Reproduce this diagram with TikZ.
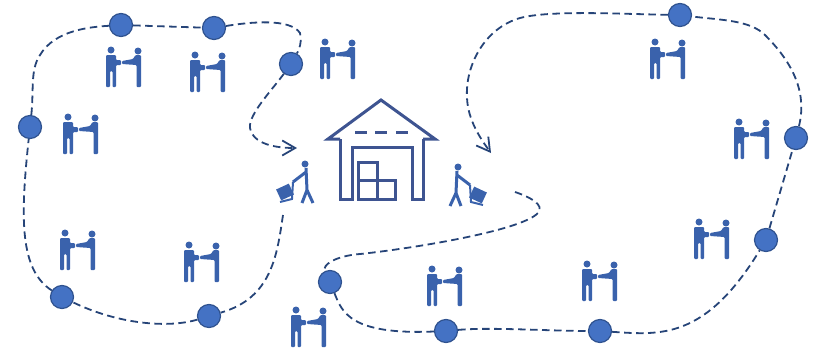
\documentclass[tikz,border=0pt]{standalone}
\usetikzlibrary{arrows.meta,positioning}
\definecolor{routeblue}{RGB}{38,68,120}
\definecolor{stopblue}{RGB}{68,114,196}
\definecolor{stopedge}{RGB}{47,82,143}
\definecolor{iconblue}{RGB}{58,98,172}
\definecolor{housegrey}{RGB}{62,84,145}
\tikzset{
  stop/.style={circle,draw=stopedge,fill=stopblue,line width=1.2pt,minimum size=23pt,inner sep=0pt},
  route/.style={draw=routeblue,line width=1.8pt,dash pattern=on 7.5pt off 4.5pt},
  house/.style={draw=housegrey,line width=3pt,line join=miter},
  pair/.pic={
    \fill[iconblue] (-13,-17) circle (3.5);
    \fill[iconblue,rounded corners=1pt] (-18,-12) -- (-8,-12) -- (-8,-7) -- (-3,-7) -- (-3,-2) -- (-8,-2) -- (-8,20) -- (-11.5,20) -- (-11.5,4) -- (-14,4) -- (-14,20) -- (-18,20) -- cycle;
    \fill[iconblue] (14,-16) circle (3.5);
    \fill[iconblue,rounded corners=1pt] (11.5,-12) -- (17,-12) -- (17,20) -- (12.5,20) -- (12.5,-2) -- (-2,-3) -- (-2,-6) -- (9,-8) -- cycle;
  },
  worker/.pic={
    \fill[iconblue] (3,-20) circle (3.5);
    \draw[iconblue,line width=3pt] (4,-16) -- (5,6) (5,6) -- (0,19) (5,6) -- (11,19) (4,-12) -- (-9,-2);
    \fill[iconblue,rotate around={25:(-17,8)}] (-24,2) rectangle (-10,14);
    \draw[iconblue,line width=2pt] (-9,-2) -- (-10,15) -- (-22,18);
  },
}
\begin{document}
\begin{tikzpicture}[x=1pt,y=-1pt]
\useasboundingbox (0,0) rectangle (814,351);
% left loop
\node[stop] (s1) at (121,25) {};
\node[stop] (s2) at (214,28) {};
\node[stop] (s3) at (291,64) {};
\node[stop] (s4) at (30,127) {};
\node[stop] (s5) at (62,297) {};
\node[stop] (s6) at (209,316) {};
\coordinate (leftin) at (297,148);
\coordinate (leftout) at (283,215);
% right loop
\node[stop] (s7) at (680,15) {};
\node[stop] (s8) at (796,138) {};
\node[stop] (s9) at (766,240) {};
\node[stop] (s10) at (600,331) {};
\node[stop] (s11) at (446,331) {};
\node[stop] (s12) at (330,282) {};
\coordinate (rightin) at (491,153);
\coordinate (rightout) at (515,192);
\draw[route,-{Straight Barb[length=13pt,width=17pt,angle'=60]}] (s3) .. controls (272,90) and (248,115) .. (250,128) .. controls (253,144) and (275,148) .. (leftin);
\draw[route] (leftout) .. controls (277,255) and (272,298) .. (s6);
\draw[route] (s6) .. controls (170,328) and (120,325) .. (s5);
\draw[route] (s5) .. controls (20,270) and (20,220) .. (s4);
\draw[route] (s4) .. controls (34,90) and (30,70) .. (40,55) .. controls (55,30) and (90,27) .. (s1);
\draw[route] (s1) -- (s2);
\draw[route] (s2) .. controls (250,22) and (290,18) .. (300,33) .. controls (303,45) and (296,55) .. (s3);
\draw[route] (rightout) .. controls (530,197) and (545,205) .. (538,213) .. controls (520,232) and (400,250) .. (360,254) .. controls (335,256) and (322,265) .. (s12);
\draw[route] (s12) .. controls (342,312) and (350,335) .. (s11);
\draw[route] (s11) .. controls (490,327) and (550,331) .. (s10);
\draw[route] (s10) .. controls (660,335) and (705,340) .. (s9);
\draw[route] (s9) -- (s8);
\draw[route] (s8) .. controls (808,90) and (790,60) .. (765,35) .. controls (750,20) and (720,20) .. (s7);
\draw[route,-{Straight Barb[length=13pt,width=17pt,angle'=60]}] (s7) .. controls (620,14) and (550,10) .. (520,18) .. controls (485,28) and (465,65) .. (467,98) .. controls (468,120) and (480,138) .. (rightin);
% warehouse
\draw[house] (340,139) -- (328,139) -- (381,100) -- (435,139) -- (423,139);
\draw[house] (340,139) -- (340,199) -- (352,199) -- (352,147) -- (412,147) -- (412,199) -- (423,199) -- (423,139);
\draw[house] (358,199) -- (358,162) -- (377,162) -- (377,199) -- cycle;
\draw[house] (358,180) -- (395,180) -- (395,199) -- (377,199);
\draw[house] (355,132) -- (367,132) (375,132) -- (387,132) (396,132) -- (408,132);
\pic at (302,184) {worker};
\pic[xscale=-1] at (461,187) {worker};
% customers
\foreach \x/\y in {124/67,208/72,338/59,81/134,78/250,202/262,309/327,445/286,600/281,668/59,752/139,712/239}
  \pic at (\x,\y) {pair};
\end{tikzpicture}
\end{document}
